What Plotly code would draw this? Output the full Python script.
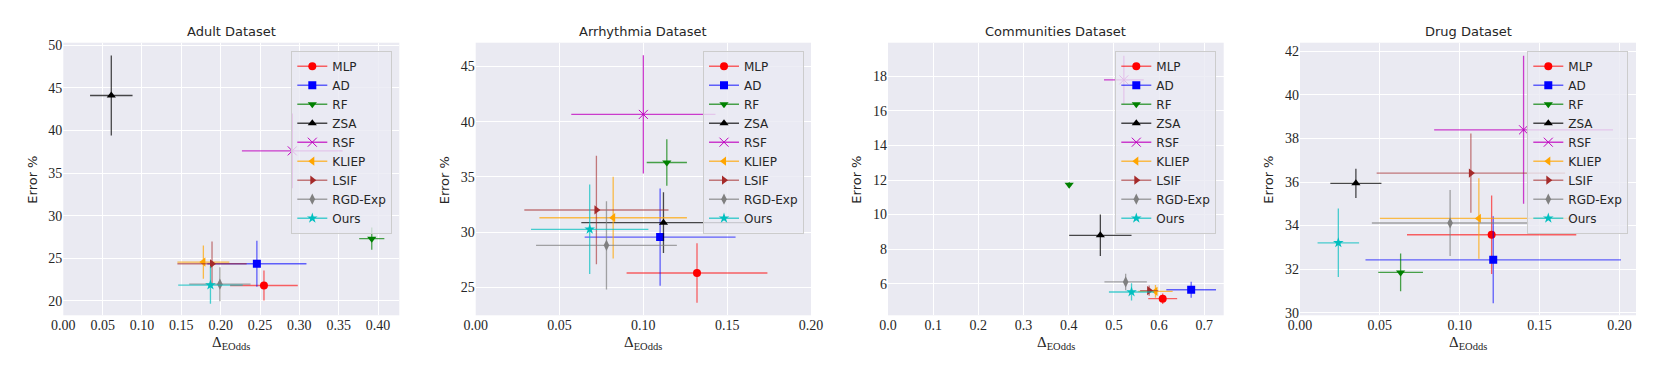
import plotly.graph_objects as go

W, H = 1661, 378

methods = ["MLP", "AD", "RF", "ZSA", "RSF", "KLIEP", "LSIF", "RGD-Exp", "Ours"]
colors = ["#FF0000", "#0000FF", "#008000", "#000000", "#BF00BF", "#FFA500", "#A52A2A", "#808080", "#00BFBF"]
err_colors = ["rgba(255,0,0,0.6)", "rgba(0,0,255,0.6)", "rgba(0,128,0,0.7)", "rgba(0,0,0,0.7)",
              "rgba(191,0,191,0.75)", "rgba(255,165,0,0.7)", "rgba(165,42,42,0.6)", "rgba(128,128,128,0.7)",
              "rgba(0,191,191,0.7)"]
symbols = ["circle", "square", "triangle-down", "triangle-up", "x-thin-open", "triangle-left",
           "triangle-right", "diamond-tall", "star"]
sizes = [8, 8, 8, 8, 9, 8, 8, 8, 8]

titles = ["Adult Dataset", "Arrhythmia Dataset", "Communities Dataset", "Drug Dataset"]

# Adult
adult_x = [0.255, 0.246, 0.392, 0.061, 0.291, 0.178, 0.189, 0.199, 0.187]
adult_xerr = [0.043, 0.063, 0.016, 0.027, 0.064, 0.033, 0.044, 0.039, 0.041]
adult_y = [21.8, 24.35, 27.3, 44.1, 37.6, 24.55, 24.35, 21.95, 21.85]
adult_yerr = [1.75, 2.7, 1.3, 4.7, 4.4, 1.95, 2.6, 2.0, 2.2]

# Arrhythmia
arr_x = [0.132, 0.110, 0.114, 0.112, 0.100, 0.082, 0.072, 0.078, 0.068]
arr_xerr = [0.042, 0.045, 0.012, 0.049, 0.043, 0.044, 0.043, 0.042, 0.035]
arr_y = [26.3, 29.55, 36.3, 30.85, 40.65, 31.3, 32.0, 28.8, 30.25]
arr_yerr = [2.7, 4.4, 2.1, 2.75, 5.35, 3.7, 4.9, 4.0, 4.05]

# Communities
com_x = [0.608, 0.671, 0.401, 0.470, 0.522, 0.592, 0.578, 0.526, 0.539]
com_xerr = [0.032, 0.055, 0.004, 0.069, 0.044, 0.038, 0.02, 0.047, 0.05]
com_y = [5.13, 5.65, 11.73, 8.8, 17.8, 5.56, 5.6, 6.1, 5.52]
com_yerr = [0.3, 0.46, 0.15, 1.2, 1.4, 0.37, 0.3, 0.48, 0.5]

# Drug
drug_x = [0.120, 0.121, 0.063, 0.035, 0.140, 0.112, 0.107, 0.094, 0.024]
drug_xerr = [0.053, 0.080, 0.014, 0.016, 0.056, 0.062, 0.059, 0.049, 0.013]
drug_y = [33.58, 32.43, 31.85, 35.94, 38.4, 34.33, 36.41, 34.12, 33.21]
drug_yerr = [1.8, 2.0, 0.87, 0.67, 3.4, 1.85, 1.82, 1.52, 1.57]

datasets = [
    (adult_x, adult_xerr, adult_y, adult_yerr),
    (arr_x, arr_xerr, arr_y, arr_yerr),
    (com_x, com_xerr, com_y, com_yerr),
    (drug_x, drug_xerr, drug_y, drug_yerr),
]

x_ranges = [[0, 0.427], [0, 0.2], [0, 0.743], [0, 0.2104]]
y_ranges = [[18.3, 50.3], [22.47, 47.14], [4.17, 19.95], [29.88, 42.4]]
x_dticks = [0.05, 0.05, 0.1, 0.05]
x_formats = [".2f", ".2f", ".1f", ".2f"]
y_dticks = [5, 5, 2, 2]

# plot areas in pixels (left, right)
px_areas = [(63.3, 399.3), (475.7, 811.0), (888.0, 1223.7), (1300.0, 1636.0)]
top_px, bot_px = 42.7, 315.3
legend_right_px = [392.3, 804.0, 1216.3, 1628.3]
ytitle_px = [31.7, 444.3, 855.7, 1267.7]

fig = go.Figure()
layout = dict(
    template="none",
    width=W, height=H,
    margin=dict(l=0, r=0, t=0, b=0, pad=0, autoexpand=False),
    paper_bgcolor="white", plot_bgcolor="#EAEAF2",
    showlegend=True,
    font=dict(family="DejaVu Sans", size=12, color="#262626"),
)
annotations = []
ydom = [1 - bot_px / H, 1 - top_px / H]

for i, (xs, xe, ys, ye) in enumerate(datasets):
    k = "" if i == 0 else str(i + 1)
    lg = "legend" + k
    for j, m in enumerate(methods):
        fig.add_trace(go.Scatter(
            x=[xs[j]], y=[ys[j]], name=m, mode="lines+markers",
            xaxis="x" + k, yaxis="y" + k, legend=lg,
            line=dict(color=err_colors[j], width=1.5),
            marker=dict(symbol=symbols[j], size=sizes[j], color=colors[j],
                        line=dict(width=1 if j == 4 else 0, color=colors[j])),
            error_x=dict(type="data", array=[xe[j]], color=err_colors[j], thickness=1.3, width=0),
            error_y=dict(type="data", array=[ye[j]], color=err_colors[j], thickness=1.3, width=0),
        ))
    l, r = px_areas[i]
    layout["xaxis" + k] = dict(
        domain=[l / W, r / W], anchor="y" + k, range=x_ranges[i], tick0=0, dtick=x_dticks[i],
        tickformat=x_formats[i], showgrid=True, gridcolor="white", gridwidth=1.2, zeroline=False,
        showline=False, ticks="", ticklen=0, automargin=False,
        tickfont=dict(family="Liberation Serif", size=14, color="#262626"),
    )
    layout["yaxis" + k] = dict(
        domain=ydom, anchor="x" + k, range=y_ranges[i], tick0=0, dtick=y_dticks[i],
        showgrid=True, gridcolor="white", gridwidth=1.2, zeroline=False, showline=False,
        ticks="", automargin=False,
        tickfont=dict(family="Liberation Serif", size=14, color="#262626"),
    )
    layout[lg] = dict(
        x=legend_right_px[i] / W, y=1 - 50.7 / H, xanchor="right", yanchor="top",
        xref="paper", yref="paper",
        bgcolor="rgba(234,234,242,0.8)", bordercolor="#CCCCCC", borderwidth=1,
        font=dict(family="DejaVu Sans", size=12, color="#262626"),
        tracegroupgap=0, itemwidth=30,
    )
    cx = (l + r) / 2 / W
    annotations.append(dict(text=titles[i], x=cx, y=1 - 31.7 / H, xref="paper", yref="paper",
                            showarrow=False, xanchor="center", yanchor="middle",
                            font=dict(family="DejaVu Sans", size=13, color="#262626")))
    annotations.append(dict(text="Δ<sub>EOdds</sub>", x=cx, y=1 - 343 / H, xref="paper", yref="paper",
                            showarrow=False, xanchor="center", yanchor="middle",
                            font=dict(family="Liberation Serif", size=15, color="#262626")))
    annotations.append(dict(text="Error %", x=ytitle_px[i] / W, y=1 - 180 / H, xref="paper", yref="paper",
                            showarrow=False, xanchor="center", yanchor="middle", textangle=-90,
                            font=dict(family="DejaVu Sans", size=13, color="#262626")))

layout["annotations"] = annotations
fig.update_layout(**layout)
fig.write_html("out.html", config={"displayModeBar": False},
               post_script="document.body.style.margin='0';document.body.style.overflow='hidden';")
